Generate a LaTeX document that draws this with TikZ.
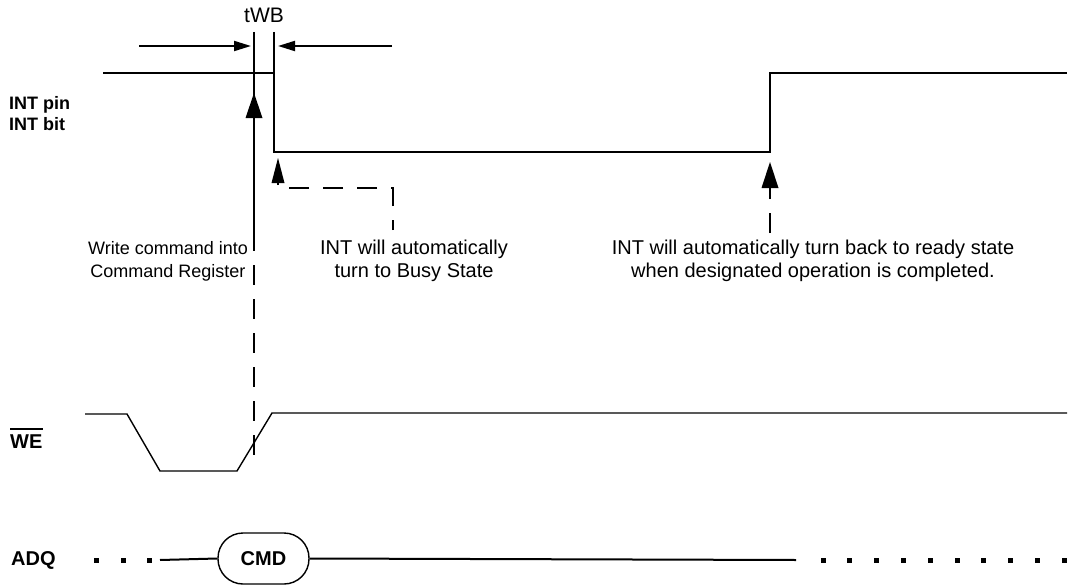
\documentclass[tikz,border=0pt]{standalone}
\usepackage{fontspec}
\setmainfont{Liberation Sans}
\usetikzlibrary{arrows.meta}
\begin{document}
\begin{tikzpicture}[x=1pt,y=-1pt,
  sig/.style={line width=2pt},
  thin sig/.style={line width=1.4pt},
  dsh/.style={line width=2pt,dash pattern=on 20pt off 14pt},
  note/.style={font=\fontsize{20}{23}\selectfont,align=center,inner sep=0pt},
  lab/.style={font=\fontsize{18}{21}\selectfont\bfseries,align=left,inner sep=0pt,anchor=west},
  hbar/.style={line width=2pt,-{Triangle[length=17pt,width=10pt]}},
  dotsq/.style={fill=black,minimum size=5pt,inner sep=0pt}
]
\useasboundingbox (0,0) rectangle (1074,586);

% coordinates
\coordinate (L1top) at (254,32);
\coordinate (L2top) at (274,32);
\coordinate (INThiL) at (103,73);
\coordinate (INTfall) at (274,73);
\coordinate (INTlowL) at (274,152);
\coordinate (INTlowR) at (770,152);
\coordinate (INTrise) at (770,73);
\coordinate (INThiR) at (1067,73);

% tWB
\node (twb) at (264,15) [font=\fontsize{21}{21}\selectfont,inner sep=0pt] {tWB};
\draw[sig] (L2top) -- (INTfall);
\coordinate (la) at (139,46);
\coordinate (lb) at (251,46);
\coordinate (ra) at (392,46);
\coordinate (rb) at (278,46);
\draw[hbar] (la) -- (lb);
\draw[hbar] (ra) -- (rb);

% INT waveform
\draw[sig] (INThiL) -- (INTfall) -- (INTlowL) -- (INTlowR) -- (INTrise) -- (INThiR);

% labels
\node[lab] (intlab) at (9,114) {INT pin\\INT bit};

% write command arrow
\coordinate (wtip) at (254,93);
\coordinate (wsolid) at (254,231);
\coordinate (wdash) at (254,468);
\draw[sig] (L1top) -- (wsolid);
\draw[dsh] (wsolid) -- (wdash);
\fill (wtip) -- ++(8.5,25) -- ++(-17,0) -- cycle;

% busy arrow
\coordinate (btip) at (278,158);
\coordinate (bcorner) at (278,188);
\coordinate (bcorner2) at (393,188);
\coordinate (bend) at (393,230);
\draw[line width=2pt,dash pattern=on 20pt off 14pt,dash phase=10pt] (bend) -- (bcorner2) -- (bcorner) -- (278,182);
\fill (btip) -- ++(6.5,25) -- ++(-13,0) -- cycle;

% ready arrow
\coordinate (rtip) at (770,162);
\coordinate (rend) at (770,233);
\draw[line width=2pt,dash pattern=on 20pt off 14pt] (rend) -- (770,187);
\fill (rtip) -- ++(8.5,26) -- ++(-17,0) -- cycle;

% notes
\node[note,font=\fontsize{18}{23}\selectfont] (n1) at (168,261) {Write command into\\Command Register};
\node[note] (n2) at (414,261) {INT will automatically\\turn to Busy State};
\node[note] (n3) at (813,261) {INT will automatically turn back to ready state\\when designated operation is completed.};

% WE
\node[lab,font=\fontsize{20}{20}\selectfont\bfseries] (we) at (10,442) {WE};
\draw[line width=2pt] ([yshift=6pt]we.north west) -- ([yshift=6pt]we.north east);
\draw[thin sig] (85,414) -- (127,414) -- (160,471) -- (237,471) -- (272,413) -- (1067,413);

% ADQ
\node[lab,font=\fontsize{20}{20}\selectfont\bfseries] (adq) at (11,560) {ADQ};
\foreach \x in {96,123,149} \node[dotsq] at (\x,560) {};
\node[draw,line width=1.4pt,rounded corners=25pt,minimum width=91pt,minimum height=51pt,inner sep=0pt,font=\fontsize{20}{20}\selectfont\bfseries] (cmd) at (263.5,558.5) {CMD};
\coordinate (adqL) at (160,560);
\coordinate (adqR) at (796,560);
\draw[sig] (adqL) -- (cmd.west);
\draw[sig] (cmd.east) -- (adqR);
\foreach \i in {0,...,9} \node[dotsq] at (823+26.8*\i,560) {};
\end{tikzpicture}
\end{document}
